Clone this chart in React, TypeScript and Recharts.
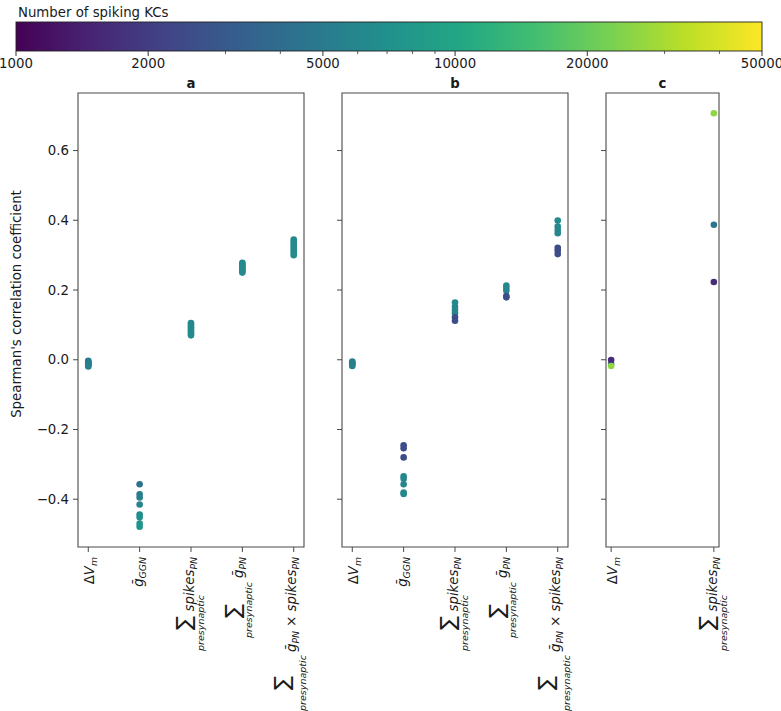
import React from 'react';
import { ScatterChart, Scatter, XAxis, YAxis, ReferenceArea } from 'recharts';

const FONT = '"DejaVu Sans", sans-serif';
const TXT = '#1a1a1a';
const SPINE = '#4a4a4a';

// ---------- data ----------
const categoriesAB = ['dVm', 'gGGN', 'sumSpikes', 'sumG', 'sumGxSpikes'];
const categoriesC = ['dVm', 'sumSpikes'];
const panelTitles = ['a', 'b', 'c'];

const yTicks = [-0.4, -0.2, 0, 0.2, 0.4, 0.6];
const yDomain: [number, number] = [-0.537, 0.765];

const cbTicks = [1000, 2000, 5000, 10000, 20000, 50000];
const cbMinorTicks = [3000, 4000, 6000, 7000, 8000, 9000, 30000, 40000];
const kcRange = [1000, 50000];

// [category index, Spearman rho, number of spiking KCs]
const panelA: [number, number, number][] = [
  [0, -0.003, 5000], [0, -0.006, 5000], [0, -0.008, 5100], [0, -0.010, 5100],
  [0, -0.012, 5200], [0, -0.014, 5200], [0, -0.016, 5300], [0, -0.019, 5300],
  [1, -0.357, 4300], [1, -0.386, 5200], [1, -0.395, 5500], [1, -0.415, 5800],
  [1, -0.444, 6500], [1, -0.452, 6800], [1, -0.470, 7300], [1, -0.479, 7600],
  [2, 0.105, 6000], [2, 0.100, 6000], [2, 0.095, 6100], [2, 0.090, 6100],
  [2, 0.085, 6200], [2, 0.080, 6200], [2, 0.075, 6300], [2, 0.070, 6300],
  [3, 0.278, 6200], [3, 0.274, 6200], [3, 0.270, 6300], [3, 0.265, 6300],
  [3, 0.262, 6300], [3, 0.258, 6300], [3, 0.254, 6300], [3, 0.250, 6300],
  [4, 0.345, 6200], [4, 0.338, 6200], [4, 0.332, 6300], [4, 0.326, 6300],
  [4, 0.320, 6300], [4, 0.313, 6300], [4, 0.306, 6300], [4, 0.300, 6300],
];

const panelB: [number, number, number][] = [
  [0, -0.005, 5300], [0, -0.008, 5300], [0, -0.011, 5400], [0, -0.014, 5400], [0, -0.018, 5500],
  [1, -0.334, 6000], [1, -0.341, 6000], [1, -0.357, 6000], [1, -0.381, 6200], [1, -0.385, 6200],
  [1, -0.245, 2500], [1, -0.254, 2500], [1, -0.280, 2500],
  [2, 0.164, 6200], [2, 0.152, 6100], [2, 0.143, 6000], [2, 0.133, 5900],
  [2, 0.122, 2500], [2, 0.112, 2500],
  [3, 0.213, 6200], [3, 0.206, 6100], [3, 0.198, 6000],
  [3, 0.183, 2500], [3, 0.179, 2500],
  [4, 0.399, 6400], [4, 0.382, 6200], [4, 0.372, 6100], [4, 0.363, 6000],
  [4, 0.321, 2500], [4, 0.313, 2500], [4, 0.303, 2500],
];

const panelC: [number, number, number][] = [
  [0, -0.012, 4800], [0, -0.001, 1600], [0, -0.018, 26000],
  [1, 0.707, 26000], [1, 0.387, 4800], [1, 0.223, 1600],
];

// ---------- colormap ----------
const VIRIDIS = ['#440154', '#482475', '#414487', '#355f8d', '#2a788e', '#21918c',
  '#22a884', '#44bf70', '#7ad151', '#bddf26', '#fde725'];

function hexToRgb(h: string) {
  return [parseInt(h.slice(1, 3), 16), parseInt(h.slice(3, 5), 16), parseInt(h.slice(5, 7), 16)];
}
function viridis(t: number) {
  const tt = Math.max(0, Math.min(1, t));
  const s = tt * (VIRIDIS.length - 1);
  const i = Math.min(VIRIDIS.length - 2, Math.floor(s));
  const f = s - i;
  const a = hexToRgb(VIRIDIS[i]);
  const b = hexToRgb(VIRIDIS[i + 1]);
  const c = a.map((v, k) => Math.round(v + (b[k] - v) * f));
  return `rgb(${c[0]},${c[1]},${c[2]})`;
}
function logPos(v: number) {
  return Math.log(v / kcRange[0]) / Math.log(kcRange[1] / kcRange[0]);
}
function kcColor(kc: number) {
  return viridis(logPos(kc));
}

// ---------- tick labels ----------
const fmt = (v: number) => (v < 0 ? '\u2212' + Math.abs(v).toFixed(1) : v.toFixed(1));

function Sigma({ u, v }: { u: number; v: number }) {
  return (
    <text x={u} y={v} textAnchor="middle" fontSize={21} fill={TXT} fontFamily={FONT}>∑</text>
  );
}
function Presyn({ u, v }: { u: number; v: number }) {
  return (
    <text x={u} y={v} textAnchor="middle" fontSize={9.5} fontStyle="italic" fill={TXT} fontFamily={FONT}>presynaptic</text>
  );
}

function renderLabel(key: string) {
  const base = { textAnchor: 'end' as const, fontSize: 13.3, fill: TXT, fontFamily: FONT };
  switch (key) {
    case 'dVm':
      return (
        <text x={0} y={6} {...base}>
          <tspan>Δ</tspan><tspan fontStyle="italic">V</tspan>
          <tspan fontStyle="italic" fontSize={9.3} dy={3}>m</tspan>
        </text>
      );
    case 'gGGN':
      return (
        <text x={0} y={3} {...base}>
          <tspan fontStyle="italic">ḡ</tspan>
          <tspan fontStyle="italic" fontSize={9.3} dy={3}>GGN</tspan>
        </text>
      );
    case 'sumSpikes':
      return (
        <g>
          <text x={0} y={3} {...base}>
            <tspan fontStyle="italic">spikes</tspan>
            <tspan fontStyle="italic" fontSize={9.3} dy={3}>PN</tspan>
          </text>
          <Sigma u={-66} v={0} />
          <Presyn u={-66} v={13} />
        </g>
      );
    case 'sumG':
      return (
        <g>
          <text x={0} y={1} {...base}>
            <tspan fontStyle="italic">ḡ</tspan>
            <tspan fontStyle="italic" fontSize={9.3} dy={3}>PN</tspan>
          </text>
          <Sigma u={-54} v={-2} />
          <Presyn u={-53} v={10} />
        </g>
      );
    case 'sumGxSpikes':
      return (
        <g>
          <text x={0} y={2} {...base}>
            <tspan fontStyle="italic">ḡ</tspan>
            <tspan fontStyle="italic" fontSize={9.3} dy={3}>PN</tspan>
            <tspan dy={-3}> × </tspan>
            <tspan fontStyle="italic">spikes</tspan>
            <tspan fontStyle="italic" fontSize={9.3} dy={3}>PN</tspan>
          </text>
          <Sigma u={-126} v={-5} />
          <Presyn u={-126} v={12} />
        </g>
      );
    default:
      return null;
  }
}

function XTick(props: any) {
  const { x, y, payload, cats } = props;
  const key = cats[payload.value];
  return (
    <g transform={`translate(${x},${y + 3}) rotate(-90)`}>{renderLabel(key)}</g>
  );
}

const EmptyTick = () => <g />;

function Dot(props: any) {
  const { cx, cy, payload } = props;
  return <circle cx={cx} cy={cy} r={3.3} fill={kcColor(payload.kc)} />;
}

// ---------- panel ----------
function Panel({ points, cats, left, width, rightMargin, yAxisWidth, showYLabels, xDomain }: any) {
  const data = points.map(([c, r, k]: [number, number, number]) => ({ x: c, y: r, kc: k }));
  return (
    <div style={{ position: 'absolute', left, top: 80 }}>
      <ScatterChart width={width} height={631} margin={{ top: 13, right: rightMargin, bottom: 0, left: 0 }}>
        <XAxis
          type="number"
          dataKey="x"
          domain={xDomain}
          ticks={cats.map((_: string, i: number) => i)}
          interval={0}
          allowDataOverflow
          height={164}
          axisLine={false}
          tickLine={{ stroke: SPINE }}
          tickSize={5}
          tick={(p: any) => <XTick {...p} cats={cats} />}
        />
        <YAxis
          type="number"
          dataKey="y"
          domain={yDomain}
          ticks={yTicks}
          interval={0}
          allowDataOverflow
          width={yAxisWidth}
          axisLine={false}
          tickLine={{ stroke: SPINE }}
          tickSize={5}
          tickMargin={4}
          tickFormatter={fmt}
          tick={showYLabels ? { fill: TXT, fontSize: 13.3, fontFamily: FONT } : EmptyTick}
        />
        <ReferenceArea
          x1={xDomain[0]}
          x2={xDomain[1]}
          y1={yDomain[0]}
          y2={yDomain[1]}
          fill="none"
          fillOpacity={0}
          stroke={SPINE}
          strokeWidth={1.1}
          ifOverflow="visible"
        />
        <Scatter data={data} isAnimationActive={false} shape={Dot} />
      </ScatterChart>
    </div>
  );
}

// ---------- colorbar & overlay ----------
const CB_X0 = 16;
const CB_X1 = 762;
const CB_Y0 = 22;
const CB_Y1 = 51;
const cbX = (v: number) => CB_X0 + (CB_X1 - CB_X0) * logPos(v);

function Overlay() {
  return (
    <svg width={781} height={711} style={{ position: 'absolute', left: 0, top: 0, pointerEvents: 'none' }}>
      <defs>
        <linearGradient id="viridisGrad" x1="0" x2="1" y1="0" y2="0">
          {VIRIDIS.map((c, i) => (
            <stop key={i} offset={i / (VIRIDIS.length - 1)} stopColor={c} />
          ))}
        </linearGradient>
      </defs>
      <text x={18} y={17} fontSize={13.3} fill={TXT} fontFamily={FONT}>Number of spiking KCs</text>
      <rect x={CB_X0} y={CB_Y0} width={CB_X1 - CB_X0} height={CB_Y1 - CB_Y0} fill="url(#viridisGrad)" stroke="#222" strokeWidth={0.9} />
      {cbTicks.map((t) => (
        <g key={t}>
          <line x1={cbX(t)} x2={cbX(t)} y1={CB_Y1} y2={CB_Y1 + 5} stroke="#333" strokeWidth={1} />
          <text x={cbX(t)} y={68} textAnchor="middle" fontSize={13.3} fill={TXT} fontFamily={FONT}>{t}</text>
        </g>
      ))}
      {cbMinorTicks.map((t) => (
        <line key={t} x1={cbX(t)} x2={cbX(t)} y1={CB_Y1} y2={CB_Y1 + 3} stroke="#333" strokeWidth={0.8} />
      ))}
      <text x={21} y={304} transform="rotate(-90 21 304)" textAnchor="middle" fontSize={13.3} fill={TXT} fontFamily={FONT}>
        Spearman's correlation coefficient
      </text>
      {[191, 455, 662.5].map((cx, i) => (
        <text key={i} x={cx} y={88} textAnchor="middle" fontSize={13.3} fontWeight="bold" fill={TXT} fontFamily={FONT}>
          {panelTitles[i]}
        </text>
      ))}
    </svg>
  );
}

export default function App() {
  return (
    <div style={{ position: 'fixed', left: 0, top: 0, width: 781, height: 711, background: '#fff', fontFamily: FONT, overflow: 'hidden' }}>
      <Panel points={panelA} cats={categoriesAB} left={0} width={310} rightMargin={6} yAxisWidth={78} showYLabels xDomain={[-0.2, 4.2]} />
      <Panel points={panelB} cats={categoriesAB} left={330} width={244} rightMargin={6} yAxisWidth={12} showYLabels={false} xDomain={[-0.2, 4.2]} />
      <Panel points={panelC} cats={categoriesC} left={590} width={185} rightMargin={56} yAxisWidth={16} showYLabels={false} xDomain={[-0.05, 1.05]} />
      <Overlay />
    </div>
  );
}
